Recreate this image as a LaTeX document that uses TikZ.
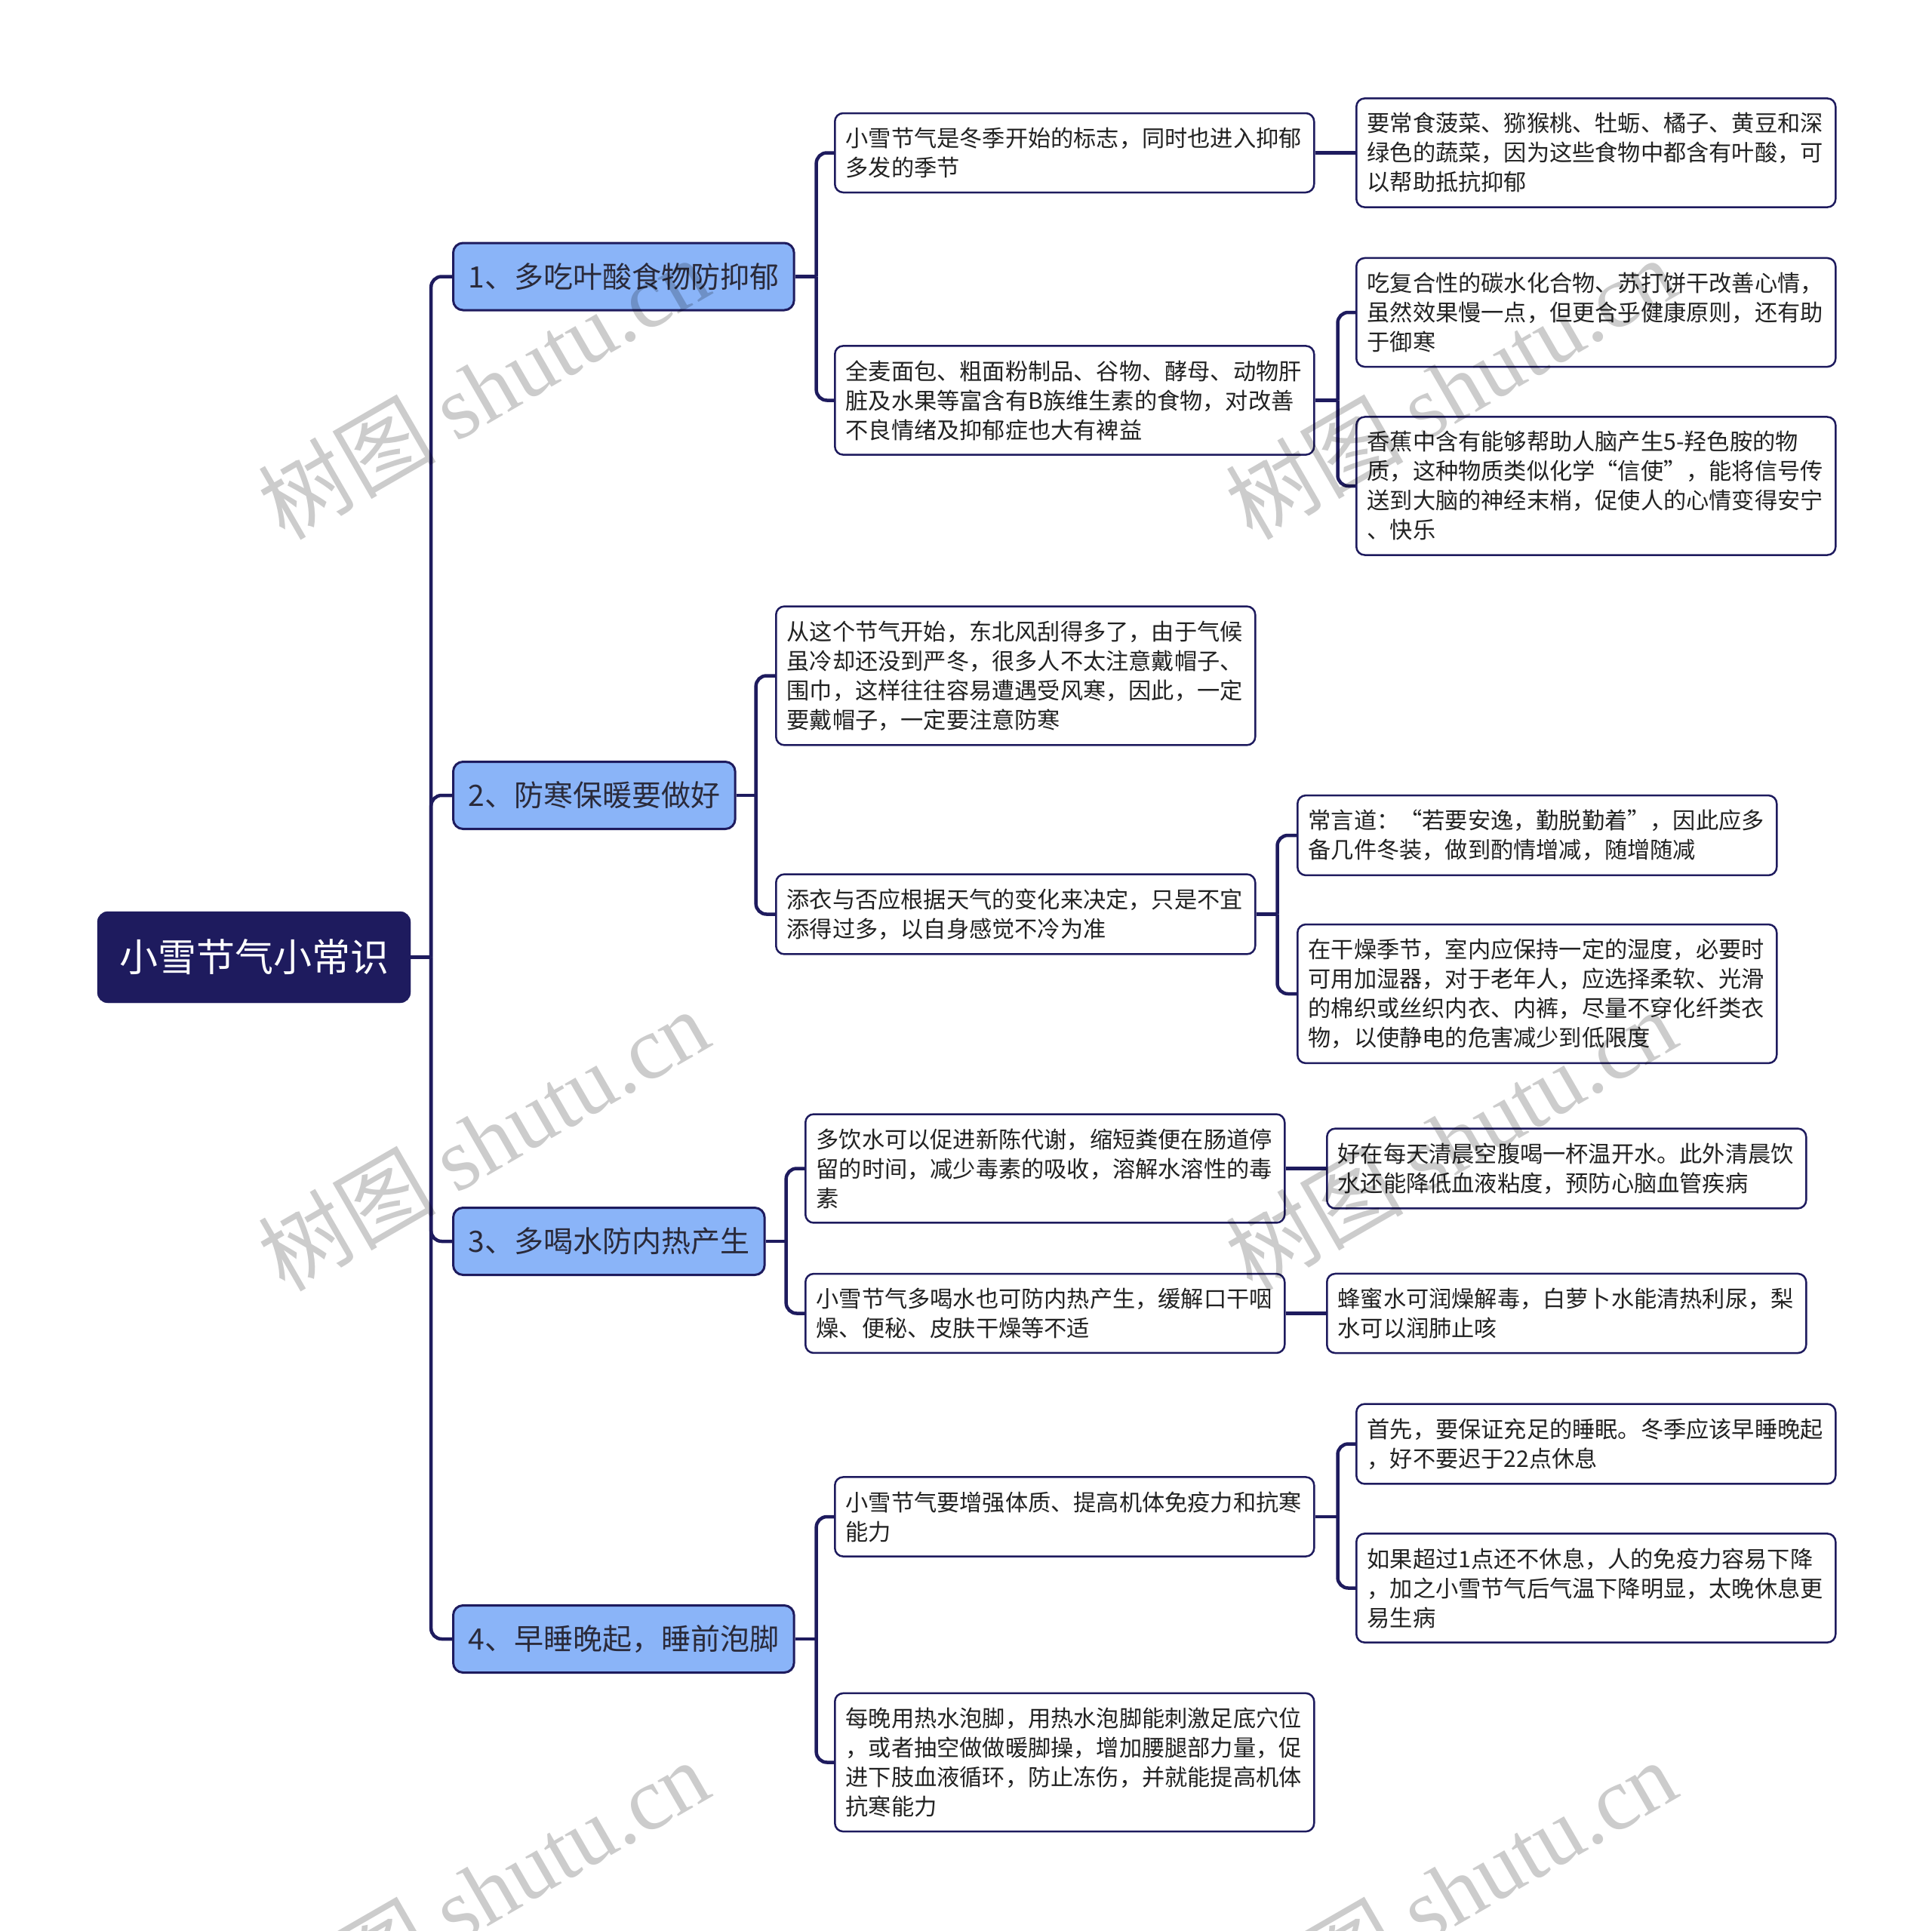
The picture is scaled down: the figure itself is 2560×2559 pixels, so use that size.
\documentclass[tikz,border=0pt]{standalone}
\usepackage{fontspec}
\setmainfont{Noto Sans CJK SC}
\newfontfamily\wmserif{Liberation Serif}
\definecolor{navy}{HTML}{1E1B5E}
\definecolor{lblue}{HTML}{8AB4F8}
\definecolor{ltext}{HTML}{2A2A3A}
\definecolor{btext}{HTML}{222222}
\tikzset{
  rootbox/.style={fill=navy, draw=navy, rounded corners=14pt, text=white, minimum width=415pt, minimum height=121pt, inner sep=0pt, font=\fontsize{51}{60}\selectfont},
  lonebox/.style={fill=lblue, draw=navy, line width=3pt, rounded corners=13pt, minimum height=89pt, inner xsep=20pt, inner ysep=0pt, text=ltext, anchor=west, font=\fontsize{39}{46}\selectfont},
  leafbox/.style={fill=white, draw=navy, line width=2.5pt, rounded corners=11pt, text width=606pt, inner xsep=14.5pt, inner ysep=19pt, align=left, text=btext, anchor=west, font=\fontsize{30.2}{39}\selectfont},
  link/.style={draw=navy, line width=4.5pt, rounded corners=14pt},
  wmark/.style={rotate=30, text=black, opacity=0.2, font=\fontsize{118}{128}\selectfont}
}
\begin{document}
\begin{tikzpicture}[x=1pt,y=-1pt]
\fill[white] (0,0) rectangle (2560,2559);
\useasboundingbox (0,0) rectangle (2560,2559);

% root
\node[rootbox] (root) at (336.5,1268.5) {小雪节气小常识};

% level 1
\node[lonebox] (b1) at (599,366.5) {1、多吃叶酸食物防抑郁};
\node[lonebox] (b2) at (599,1054) {2、防寒保暖要做好};
\node[lonebox] (b3) at (599,1645) {3、多喝水防内热产生};
\node[lonebox] (b4) at (599,2172) {4、早睡晚起，睡前泡脚};

% level 2
\node[leafbox] (b1a) at (1105,202.5) {小雪节气是冬季开始的标志，同时也进入抑郁\\多发的季节};
\node[leafbox] (b1b) at (1105,530.5) {全麦面包、粗面粉制品、谷物、酵母、动物肝\\脏及水果等富含有B族维生素的食物，对改善\\不良情绪及抑郁症也大有裨益};
\node[leafbox] (b2a) at (1027,895.5) {从这个节气开始，东北风刮得多了，由于气候\\虽冷却还没到严冬，很多人不太注意戴帽子、\\围巾，这样往往容易遭遇受风寒，因此，一定\\要戴帽子，一定要注意防寒};
\node[leafbox] (b2b) at (1027,1211.5) {添衣与否应根据天气的变化来决定，只是不宜\\添得过多，以自身感觉不冷为准};
\node[leafbox] (b3a) at (1066,1548.5) {多饮水可以促进新陈代谢，缩短粪便在肠道停\\留的时间，减少毒素的吸收，溶解水溶性的毒\\素};
\node[leafbox] (b3b) at (1066,1740.5) {小雪节气多喝水也可防内热产生，缓解口干咽\\燥、便秘、皮肤干燥等不适};
\node[leafbox] (b4a) at (1105,2010) {小雪节气要增强体质、提高机体免疫力和抗寒\\能力};
\node[leafbox] (b4b) at (1105,2335.5) {每晚用热水泡脚，用热水泡脚能刺激足底穴位\\，或者抽空做做暖脚操，增加腰腿部力量，促\\进下肢血液循环，防止冻伤，并就能提高机体\\抗寒能力};

% level 3
\node[leafbox] (b1a1) at (1796,202.5) {要常食菠菜、猕猴桃、牡蛎、橘子、黄豆和深\\绿色的蔬菜，因为这些食物中都含有叶酸，可\\以帮助抵抗抑郁};
\node[leafbox] (b1b1) at (1796,414) {吃复合性的碳水化合物、苏打饼干改善心情，\\虽然效果慢一点，但更合乎健康原则，还有助\\于御寒};
\node[leafbox] (b1b2) at (1796,644) {香蕉中含有能够帮助人脑产生5-羟色胺的物\\质，这种物质类似化学“信使”，能将信号传\\送到大脑的神经末梢，促使人的心情变得安宁\\、快乐};
\node[leafbox] (b2b1) at (1718,1107) {常言道：“若要安逸，勤脱勤着”，因此应多\\备几件冬装，做到酌情增减，随增随减};
\node[leafbox] (b2b2) at (1718,1317) {在干燥季节，室内应保持一定的湿度，必要时\\可用加湿器，对于老年人，应选择柔软、光滑\\的棉织或丝织内衣、内裤，尽量不穿化纤类衣\\物，以使静电的危害减少到低限度};
\node[leafbox] (b3a1) at (1757,1548.5) {好在每天清晨空腹喝一杯温开水。此外清晨饮\\水还能降低血液粘度，预防心脑血管疾病};
\node[leafbox] (b3b1) at (1757,1740.5) {蜂蜜水可润燥解毒，白萝卜水能清热利尿，梨\\水可以润肺止咳};
\node[leafbox] (b4a1) at (1796,1913.5) {首先，要保证充足的睡眠。冬季应该早睡晚起\\，好不要迟于22点休息};
\node[leafbox] (b4a2) at (1796,2104.5) {如果超过1点还不休息，人的免疫力容易下降\\，加之小雪节气后气温下降明显，太晚休息更\\易生病};

% connectors: root to level 1
\draw[link] (root.east) -- ++(27,0) coordinate (j0);
\foreach \n in {b1,b2,b3,b4} \draw[link] (j0) |- (\n.west);

% level 1 to level 2
\draw[link] (b1.east) -- ++(28,0) coordinate (j1);
\draw[link] (j1) |- (b1a.west);
\draw[link] (j1) |- (b1b.west);
\draw[link] (b2.east) -- ++(26,0) coordinate (j2);
\draw[link] (j2) |- (b2a.west);
\draw[link] (j2) |- (b2b.west);
\draw[link] (b3.east) -- ++(27,0) coordinate (j3);
\draw[link] (j3) |- (b3a.west);
\draw[link] (j3) |- (b3b.west);
\draw[link] (b4.east) -- ++(28,0) coordinate (j4);
\draw[link] (j4) |- (b4a.west);
\draw[link] (j4) |- (b4b.west);

% level 2 to level 3
\draw[link] (b1a.east) -- (b1a1.west);
\draw[link] (b1b.east) -- ++(30,0) coordinate (k1);
\draw[link] (k1) |- (b1b1.west);
\draw[link] (k1) |- (b1b2.west);
\draw[link] (b2b.east) -- ++(28,0) coordinate (k2);
\draw[link] (k2) |- (b2b1.west);
\draw[link] (k2) |- (b2b2.west);
\draw[link] (b3a.east) -- (b3a1.west);
\draw[link] (b3b.east) -- (b3b1.west);
\draw[link] (b4a.east) -- ++(30,0) coordinate (k4);
\draw[link] (k4) |- (b4a1.west);
\draw[link] (k4) |- (b4a2.west);

% watermarks
\node[wmark] (w1) at (640,514) {树图 {\wmserif shutu.cn}};
\node[wmark] (w2) at (1922,514) {树图 {\wmserif shutu.cn}};
\node[wmark] (w3) at (640,1510) {树图 {\wmserif shutu.cn}};
\node[wmark] (w4) at (1922,1510) {树图 {\wmserif shutu.cn}};
\node[wmark] (w5) at (640,2505) {树图 {\wmserif shutu.cn}};
\node[wmark] (w6) at (1922,2505) {树图 {\wmserif shutu.cn}};
\end{tikzpicture}
\end{document}
